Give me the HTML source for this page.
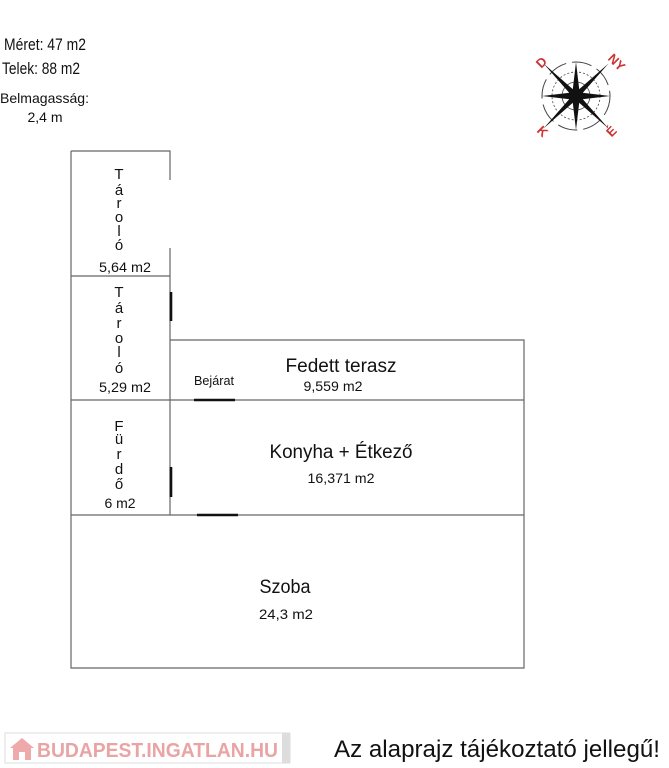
<!DOCTYPE html>
<html><head><meta charset="utf-8"><style>
body{margin:0;width:669px;height:768px;background:#fff;overflow:hidden}
svg{display:block}
text{font-family:"Liberation Sans",sans-serif;fill:#111}
</style></head><body>
<svg width="669" height="768" viewBox="0 0 669 768">
<g stroke="#666" stroke-width="1.2" fill="none">
<path d="M71 151 H170 V180 M170 248 V515 M71 151 V668 H524 V340 H170 M71 276 H170 M71 400 H524 M71 515 H524"/>
</g>
<g stroke="#111" stroke-width="2.6">
<line x1="171" y1="292" x2="171" y2="321"/>
<line x1="171" y1="467" x2="171" y2="497"/>
<line x1="194" y1="400" x2="235" y2="400"/>
<line x1="197" y1="515" x2="238" y2="515"/>
</g>
<g font-size="15" text-anchor="middle">
<text x="119" y="179">T</text><text x="119" y="195">á</text><text x="119" y="208">r</text><text x="119" y="222">o</text><text x="119" y="236">l</text><text x="119" y="250">ó</text>
<text x="119" y="297">T</text><text x="119" y="313">á</text><text x="119" y="328">r</text><text x="119" y="343">o</text><text x="119" y="357">l</text><text x="119" y="373">ó</text>
<text x="119" y="431">F</text><text x="119" y="444">ü</text><text x="119" y="459">r</text><text x="119" y="474">d</text><text x="119" y="489">ő</text>
</g>
<g font-size="14" text-anchor="middle">
<text x="125" y="272" textLength="52" lengthAdjust="spacingAndGlyphs">5,64 m2</text>
<text x="125" y="392" textLength="52" lengthAdjust="spacingAndGlyphs">5,29 m2</text>
<text x="120" y="508">6 m2</text>
<text x="214" y="385" textLength="40" font-size="13" lengthAdjust="spacingAndGlyphs">Bejárat</text>
<text x="333" y="391" textLength="59" lengthAdjust="spacingAndGlyphs">9,559 m2</text>
<text x="341" y="483" textLength="67" lengthAdjust="spacingAndGlyphs">16,371 m2</text>
<text x="286" y="619" textLength="54" lengthAdjust="spacingAndGlyphs">24,3 m2</text>
</g>
<g font-size="19" text-anchor="middle">
<text x="341" y="372" textLength="111" lengthAdjust="spacingAndGlyphs">Fedett terasz</text>
<text x="341" y="458" textLength="143" lengthAdjust="spacingAndGlyphs">Konyha + Étkező</text>
<text x="285" y="593" textLength="51" lengthAdjust="spacingAndGlyphs">Szoba</text>
</g>
<g font-size="17">
<text x="4" y="50" textLength="82" lengthAdjust="spacingAndGlyphs">Méret: 47 m2</text>
<text x="2" y="74" textLength="78" lengthAdjust="spacingAndGlyphs">Telek: 88 m2</text>
<text x="0" y="103" font-size="14" textLength="89" lengthAdjust="spacingAndGlyphs">Belmagasság:</text>
<text x="45" y="122" font-size="14" text-anchor="middle">2,4 m</text>
</g>
<g transform="translate(576,96)" fill="none" stroke="#444">
<circle r="34" stroke-width="1" stroke-dasharray="20 6"/>
<circle r="24" stroke-width="0.8" stroke-dasharray="2 2"/>
<circle r="14" stroke-width="0.8"/>
<g fill="#111" stroke="none">
<polygon points="0,-34 4,0 0,34 -4,0"/>
<polygon points="-34,0 0,4 34,0 0,-4"/>
<polygon points="0,-46 3,0 0,46 -3,0" transform="rotate(-45)"/>
<polygon points="0,-46 3,0 0,46 -3,0" transform="rotate(45)"/>
</g>
</g>
<g font-size="13" font-weight="bold" text-anchor="middle">
<text x="541" y="67" transform="rotate(-45 541 62)" style="fill:#c33">D</text>
<text x="617" y="67" transform="rotate(45 617 62)" style="fill:#c33">NY</text>
<text x="543" y="136" transform="rotate(45 543 131)" style="fill:#c33">K</text>
<text x="611" y="136" transform="rotate(-45 611 131)" style="fill:#c33">É</text>
</g>
<rect x="5" y="733" width="285" height="30" fill="#fff" stroke="#ddd"/>
<rect x="282" y="733" width="8" height="30" fill="#ddd"/>
<path d="M10 748 L22 738 L34 748 Z" fill="#eaa"/>
<rect x="13" y="748" width="18" height="12" fill="#eaa"/>
<rect x="19" y="752" width="6" height="8" fill="#fff"/>
<text x="37" y="757" font-size="20" font-weight="bold" textLength="241" lengthAdjust="spacingAndGlyphs" style="fill:#e9a4a4">BUDAPEST.INGATLAN.HU</text>
<text x="334" y="757" font-size="24" textLength="326" lengthAdjust="spacingAndGlyphs">Az alaprajz tájékoztató jellegű!</text>
</svg>
</body></html>
